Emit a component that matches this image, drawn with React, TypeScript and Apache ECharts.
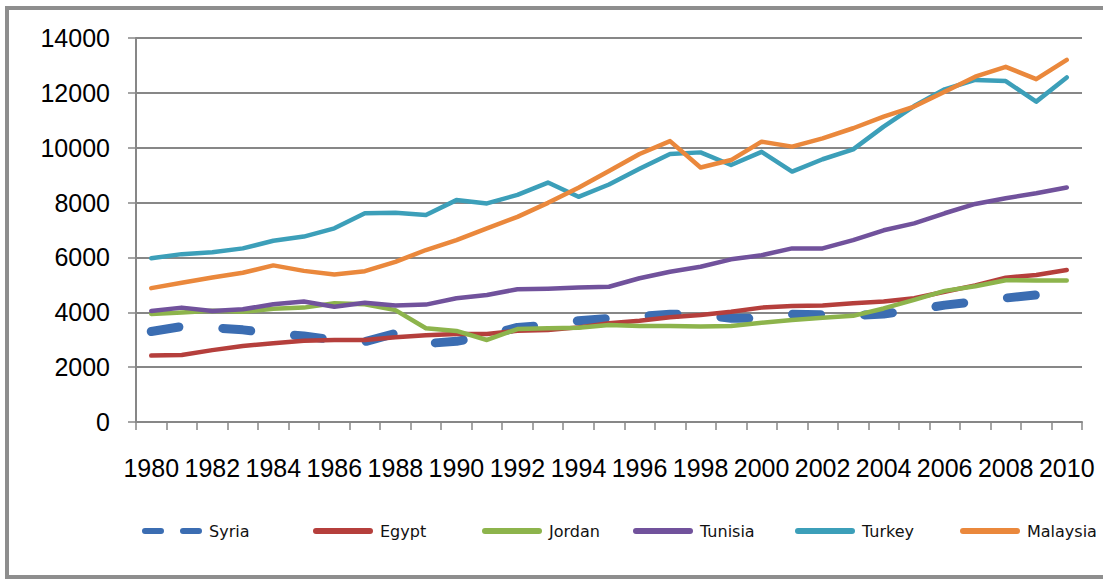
import React, { useEffect, useRef } from "react";
import * as echarts from "echarts";

const years = [
  "1980","1981","1982","1983","1984","1985","1986","1987","1988","1989",
  "1990","1991","1992","1993","1994","1995","1996","1997","1998","1999",
  "2000","2001","2002","2003","2004","2005","2006","2007","2008","2009","2010",
];

const syria = [3300,3480,3440,3360,3220,3140,2990,2930,3230,2860,2940,3150,3450,3530,3690,3780,3850,3930,3920,3780,3780,3930,3910,3880,3940,4080,4260,4390,4520,4630,4760];
const egypt = [2420,2440,2620,2770,2870,2960,2990,2990,3090,3160,3210,3210,3330,3350,3450,3600,3690,3820,3900,4020,4170,4230,4250,4330,4390,4510,4750,4980,5260,5360,5540];
const jordan = [3940,3990,4060,4020,4130,4170,4330,4290,4080,3420,3320,2990,3390,3420,3440,3540,3500,3500,3480,3500,3620,3720,3800,3870,4140,4450,4780,4950,5170,5160,5160];
const tunisia = [4050,4170,4050,4110,4290,4390,4200,4350,4250,4280,4510,4630,4840,4860,4900,4930,5240,5480,5660,5930,6080,6330,6330,6630,6990,7240,7610,7950,8160,8340,8550];
const turkey = [5970,6120,6190,6330,6610,6760,7060,7610,7630,7550,8090,7970,8280,8730,8210,8660,9230,9770,9830,9370,9850,9130,9580,9940,10770,11520,12130,12470,12430,11680,12560];
const malaysia = [4880,5080,5270,5440,5710,5510,5380,5500,5840,6270,6630,7060,7480,7990,8540,9150,9770,10240,9280,9550,10220,10040,10340,10710,11130,11500,12040,12590,12950,12500,13200];

const names = ["Syria", "Egypt", "Jordan", "Tunisia", "Turkey", "Malaysia"];
const colors = ["#3b6db2", "#b53f3c", "#8db44c", "#71529c", "#3c9fb9", "#ea883c"];
const values = [syria, egypt, jordan, tunisia, turkey, malaysia];
const legendLeft = [142, 313, 482, 633, 795, 960];

const solidIcon = "path://M3,0H57A3,3 0 0 1 57,6H3A3,3 0 0 1 3,0Z";
const dashIcon = "path://M3,0H19A3,3 0 0 1 19,6H3A3,3 0 0 1 3,0Z M41,0H57A3,3 0 0 1 57,6H41A3,3 0 0 1 41,0Z";

export default function App() {
  const ref = useRef<HTMLDivElement>(null);
  useEffect(() => {
    if (!ref.current) return;
    const chart = echarts.init(ref.current, null, { renderer: "svg" });
    const axisGray = "#878787";
    chart.setOption({
      animation: false,
      backgroundColor: "#ffffff",
      color: colors,
      grid: { left: 136, right: 21, top: 38, bottom: 160, containLabel: false },
      xAxis: {
        type: "category",
        data: years,
        boundaryGap: true,
        axisLine: { show: true, lineStyle: { color: axisGray, width: 2 } },
        axisTick: { show: true, interval: 0, length: 8, lineStyle: { color: axisGray, width: 1.5 } },
        axisLabel: {
          interval: 1,
          margin: 33,
          fontSize: 25,
          fontFamily: "Liberation Sans, Arial",
          color: "#000000",
        },
        splitLine: { show: false },
      },
      yAxis: {
        type: "value",
        min: 0,
        max: 14000,
        interval: 2000,
        axisLine: { show: true, lineStyle: { color: axisGray, width: 2 } },
        axisTick: { show: true, length: 8, lineStyle: { color: axisGray, width: 1.5 } },
        axisLabel: {
          margin: 26,
          fontSize: 25,
          fontFamily: "Liberation Sans, Arial",
          color: "#000000",
          formatter: (v: number) => String(v),
        },
        splitLine: { show: true, lineStyle: { color: axisGray, width: 2 } },
      },
      legend: names.map((n, i) => ({
        data: [{ name: n, icon: i === 0 ? dashIcon : solidIcon }],
        left: legendLeft[i],
        top: 523,
        itemWidth: 60,
        itemHeight: 6,
        itemGap: 4,
        padding: 0,
        textStyle: { fontSize: 16, fontFamily: "DejaVu Sans", color: "#111111", padding: [0, 0, 0, 2] },
      })),
      graphic: [
        {
          type: "rect",
          shape: { x: 7, y: 8, width: 1120, height: 569 },
          style: { fill: "none", stroke: "#8e8e8e", lineWidth: 4 },
          silent: true,
          z: 100,
        },
      ],
      series: names.map((n, i) => ({
        name: n,
        type: "line",
        data: values[i],
        symbol: "none",
        smooth: false,
        lineStyle:
          i === 0
            ? { color: colors[i], width: 9, type: [28, 44], cap: "round", join: "round" }
            : { color: colors[i], width: 4.5, cap: "round", join: "round" },
        itemStyle: { color: colors[i] },
        z: 2 + i,
      })),
    });
    return () => chart.dispose();
  }, []);
  return (
    <div
      ref={ref}
      style={{ position: "absolute", left: 0, top: 0, width: 1103, height: 582 }}
    />
  );
}
